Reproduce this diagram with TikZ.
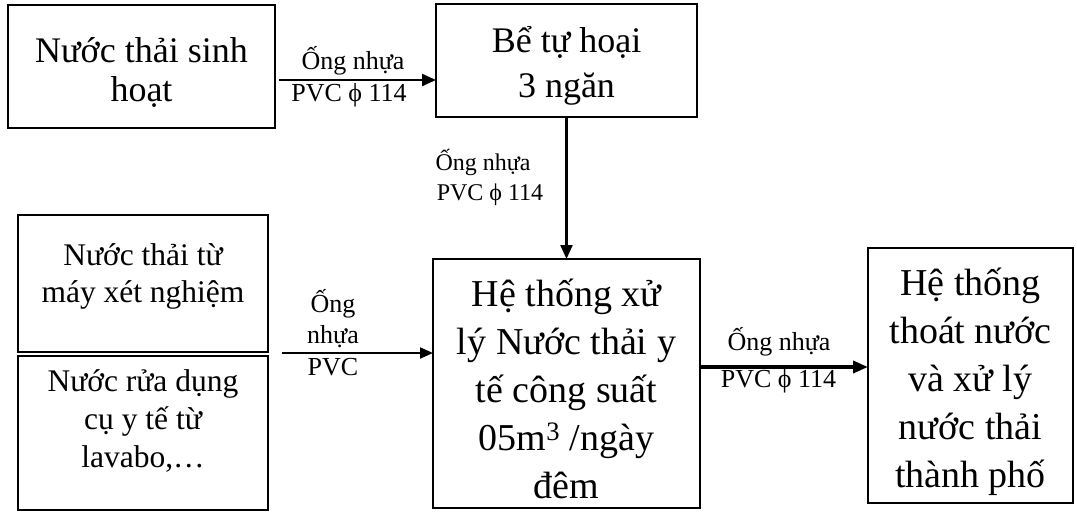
\documentclass[tikz,border=0pt]{standalone}
\usepackage{fontspec}
\setmainfont{Liberation Serif}
\usetikzlibrary{arrows.meta}
% Fixed-size text cell: #1 height, #2 width, #3 font size, #4 line skip,
% #5 distance from the top edge to the first baseline, #6 the lines
\newcommand{\cellbox}[6]{\parbox[c][#1][t]{#2}{\fontsize{#3}{#4}\selectfont\centering
  \vspace*{\dimexpr #5-#3*95/100\relax}\rule{0pt}{\dimexpr #3*95/100\relax}#6\par}}
\tikzset{
  box/.style={draw=black, line width=2pt, inner sep=0pt, outer sep=0pt},
  lbl/.style={anchor=base, inner sep=0pt, font=\fontsize{26}{30}\selectfont},
  lblsmall/.style={lbl, font=\fontsize{24}{28}\selectfont},
  pipe/.style={draw=black, line width=2.2pt,
    -{Triangle[length=14pt, width=12pt]}},
  mainpipe/.style={pipe, line width=3.5pt,
    -{Triangle[length=15pt, width=12pt]}}
}
\begin{document}
\begin{tikzpicture}[x=1pt, y=-1pt]
  \useasboundingbox (0,0) rectangle (1077,512);
  \fill[white] (0,0) rectangle (1077,512);

  % sources and treatment units
  \node[box] (sinhhoat) at (141.5,66.5)
    {\cellbox{123pt}{267pt}{36pt}{39pt}{57pt}{Nước thải sinh\\hoạt}};
  \node[box] (bietuhoai) at (566.5,60.5)
    {\cellbox{113pt}{261pt}{36pt}{45pt}{48pt}{Bể tự hoại\\3 ngăn}};
  \node[box] (xetnghiem) at (143,283.5)
    {\cellbox{137pt}{250pt}{31.5pt}{37pt}{50pt}{Nước thải từ\\máy xét nghiệm}};
  \node[box] (lavabo) at (143,433)
    {\cellbox{154pt}{250pt}{31.5pt}{38pt}{35pt}{Nước rửa dụng\\cụ y tế từ\\lavabo,…}};
  \node[box] (xuly) at (566.5,383.5)
    {\cellbox{249pt}{267pt}{38pt}{48pt}{47pt}{Hệ thống xử\\lý Nước thải y\\tế công suất\\05m\textsuperscript{3} /ngày\\đêm}};
  \node[box] (thanhpho) at (970.5,375.5)
    {\cellbox{255pt}{205pt}{38pt}{48pt}{47pt}{Hệ thống\\thoát nước\\và xử lý\\nước thải\\thành phố}};

  % pipes
  \coordinate (pipeA) at (279,80);
  \draw[pipe] (pipeA) -- (pipeA -| bietuhoai.west);
  \draw[pipe] (bietuhoai.south) -- (xuly.north);
  \coordinate (pipeC) at (282,353);
  \draw[pipe, line width=2pt, -{Triangle[length=13pt, width=11pt]}]
    (pipeC) -- (pipeC -| xuly.west);
  \coordinate (pipeD) at (0,367);
  \draw[mainpipe] (xuly.east |- pipeD) -- (thanhpho.west |- pipeD);

  % pipe labels
  \node[lbl] (la1) at (353,69) {Ống nhựa};
  \node[lbl] (la2) at (349,101) {PVC ϕ 114};
  \node[lblsmall] (lb1) at (483,170) {Ống nhựa};
  \node[lblsmall] (lb2) at (490,200) {PVC ϕ 114};
  \node[lbl] (lc1) at (333,312) {Ống};
  \node[lbl] (lc2) at (333,343) {nhựa};
  \node[lbl] (lc3) at (333,375) {PVC};
  \node[lbl] (ld1) at (779,350) {Ống nhựa};
  \node[lbl] (ld2) at (778.5,387) {PVC ϕ 114};
\end{tikzpicture}
\end{document}
